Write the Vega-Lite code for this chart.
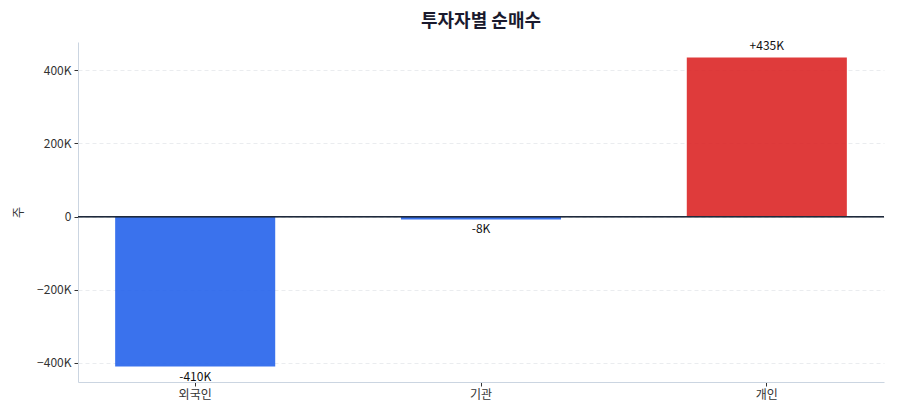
{
  "$schema": "https://vega.github.io/schema/vega-lite/v6.json",
  "width": 806,
  "height": 340,
  "autosize": {"type": "none"},
  "padding": {"left": 78, "top": 42, "right": 16, "bottom": 38},
  "background": "white",
  "title": {
    "text": "투자자별 순매수",
    "font": "Noto Sans CJK KR",
    "fontSize": 18,
    "fontWeight": "bold",
    "color": "#1a1a2e",
    "anchor": "middle",
    "offset": 9
  },
  "config": {
    "font": "Noto Sans CJK KR",
    "view": {"stroke": null}
  },
  "data": {
    "values": [
      {"investor": "외국인", "value": -410000, "label": "-410K"},
      {"investor": "기관", "value": -8000, "label": "-8K"},
      {"investor": "개인", "value": 435000, "label": "+435K"}
    ]
  },
  "layer": [
    {
      "mark": {"type": "bar", "opacity": 0.9},
      "encoding": {
        "x": {
          "field": "investor",
          "type": "nominal",
          "sort": ["외국인", "기관", "개인"],
          "scale": {"paddingInner": 0.44, "paddingOuter": 0.13},
          "axis": {
            "title": null,
            "labelAngle": 0,
            "labelFontSize": 12,
            "labelColor": "#333333",
            "domainColor": "#cbd5e1",
            "tickColor": "#333333",
            "tickSize": 4,
            "labelPadding": 3,
            "grid": false
          }
        },
        "y": {
          "field": "value",
          "type": "quantitative",
          "scale": {"domain": [-452250, 477250], "nice": false, "zero": false},
          "axis": {
            "title": "주",
            "titleFontSize": 12,
            "titleFontWeight": "normal",
            "titleColor": "#333333",
            "titlePadding": 11,
            "values": [-400000, -200000, 0, 200000, 400000],
            "labelExpr": "datum.value == 0 ? '0' : format(datum.value / 1000, 'd') + 'K'",
            "labelFontSize": 12,
            "labelColor": "#333333",
            "domainColor": "#cbd5e1",
            "tickColor": "#333333",
            "tickSize": 4,
            "labelPadding": 3,
            "grid": true,
            "gridColor": "#e5e7eb",
            "gridDash": [4, 3],
            "gridWidth": 0.8
          }
        },
        "y2": {"datum": 0},
        "color": {
          "condition": {"test": "datum.value < 0", "value": "#2563eb"},
          "value": "#dc2626"
        }
      }
    },
    {
      "mark": {"type": "rule", "color": "#1e293b", "strokeWidth": 1.2},
      "encoding": {"y": {"datum": 0, "type": "quantitative"}}
    },
    {
      "transform": [{"filter": "datum.value < 0"}],
      "mark": {"type": "text", "baseline": "top", "dy": 5, "fontSize": 12, "color": "#111111"},
      "encoding": {
        "x": {"field": "investor", "type": "nominal", "sort": ["외국인", "기관", "개인"]},
        "y": {"field": "value", "type": "quantitative"},
        "text": {"field": "label"}
      }
    },
    {
      "transform": [{"filter": "datum.value >= 0"}],
      "mark": {"type": "text", "baseline": "bottom", "dy": -4, "fontSize": 12, "color": "#111111"},
      "encoding": {
        "x": {"field": "investor", "type": "nominal", "sort": ["외국인", "기관", "개인"]},
        "y": {"field": "value", "type": "quantitative"},
        "text": {"field": "label"}
      }
    }
  ]
}
